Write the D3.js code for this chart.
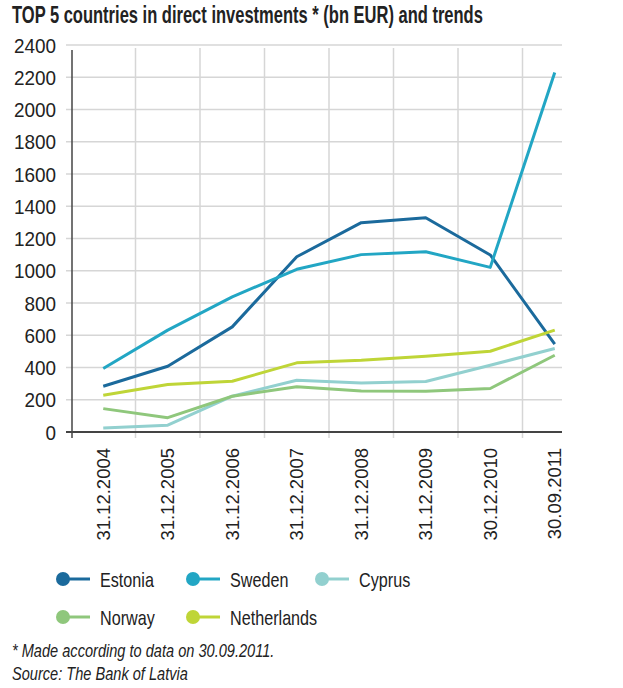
<!DOCTYPE html>
<html>
<head>
<meta charset="utf-8">
<script src="https://cdn.jsdelivr.net/npm/d3@7"></script>
<style>
  body { margin: 0; background: #fff; }
  svg { display: block; }
  .narrow { font-family: "Liberation Sans Narrow", "Arial Narrow", "Liberation Sans", sans-serif; }
</style>
</head>
<body>
<svg width="623" height="688"></svg>
<script>
const dates = ["31.12.2004", "31.12.2005", "31.12.2006", "31.12.2007", "31.12.2008", "31.12.2009", "30.12.2010", "30.09.2011"];
const countries = ["Estonia", "Sweden", "Cyprus", "Norway", "Netherlands"];
const estonia = [284, 408, 652, 1087, 1298, 1329, 1098, 545];
const sweden = [394, 632, 838, 1009, 1100, 1118, 1021, 2230];
const cyprus = [25, 42, 222, 321, 304, 313, 414, 518];
const norway = [145, 89, 222, 280, 255, 253, 270, 476];
const netherlands = [228, 294, 315, 429, 445, 470, 501, 632];
const yTicks = [0, 200, 400, 600, 800, 1000, 1200, 1400, 1600, 1800, 2000, 2200, 2400];
const colors = ["#1b6a9c", "#22a6c4", "#92d0cf", "#8fc77c", "#bfd537"];

const series = [estonia, sweden, cyprus, norway, netherlands];

const svg = d3.select("svg");

const x = d3.scaleBand().domain(dates).range([71, 587]);
const y = d3.scaleLinear().domain([0, 2400]).range([432, 45]);

// squeeze text to look like a condensed face
function narrow(sel, k) {
  sel.each(function () {
    const w = this.getComputedTextLength();
    d3.select(this)
      .attr("textLength", w * k)
      .attr("lengthAdjust", "spacingAndGlyphs");
  });
}

// title, squeezed with a transform so its box stays inside
const titleG = svg.append("g");
const title = titleG.append("text")
  .attr("class", "narrow")
  .style("font-size", "23px")
  .style("font-weight", "bold")
  .attr("fill", "#222")
  .text("TOP 5 countries in direct investments * (bn EUR) and trends");
const titleW = title.node().getComputedTextLength();
titleG.attr("transform", "translate(12,23) scale(" + (471 / titleW) + ",1)");

// horizontal grid
svg.append("g")
  .selectAll("line")
  .data(yTicks)
  .enter()
  .append("line")
  .attr("x1", 66)
  .attr("x2", 562)
  .attr("y1", d => y(d))
  .attr("y2", d => y(d))
  .attr("stroke", "#d6d6d6")
  .attr("stroke-width", 1.5);

// vertical grid
svg.append("g")
  .selectAll("line")
  .data(dates.slice(1))
  .enter()
  .append("line")
  .attr("x1", d => x(d))
  .attr("x2", d => x(d))
  .attr("y1", 48)
  .attr("y2", 438)
  .attr("stroke", "#d6d6d6")
  .attr("stroke-width", 1.5);

// y labels
svg.append("g")
  .selectAll("text")
  .data(yTicks)
  .enter()
  .append("text")
  .attr("class", "narrow")
  .attr("x", 56)
  .attr("y", d => y(d) + 7.5)
  .attr("text-anchor", "end")
  .style("font-size", "21px")
  .attr("fill", "#222")
  .text(d => d)
  .call(narrow, 0.9);

// axes lines
svg.append("line")
  .attr("x1", 72).attr("x2", 72)
  .attr("y1", 50).attr("y2", 438)
  .attr("stroke", "#444").attr("stroke-width", 1.5);
svg.append("line")
  .attr("x1", 66).attr("x2", 562)
  .attr("y1", y(0)).attr("y2", y(0))
  .attr("stroke", "#444").attr("stroke-width", 2);

// x labels
svg.append("g")
  .selectAll("text")
  .data(dates)
  .enter()
  .append("text")
  .attr("transform", d => "translate(" + (x(d) + x.bandwidth() / 2 + 6.5) + ",448) rotate(-90)")
  .attr("text-anchor", "end")
  .style("font-family", "'Liberation Sans', Arial, sans-serif")
  .style("font-size", "18.5px")
  .attr("fill", "#222")
  .text(d => d);

// lines
const line = d3.line()
  .x((d, i) => x(dates[i]) + x.bandwidth() / 2)
  .y(d => y(d));

svg.append("g")
  .selectAll("path")
  .data(series)
  .enter()
  .append("path")
  .attr("d", d => line(d))
  .attr("fill", "none")
  .attr("stroke", (d, i) => colors[i])
  .attr("stroke-width", 3)
  .attr("stroke-linejoin", "round");

// legend
const legendPos = [[63, 579], [193, 579], [322, 579], [63, 617], [193, 617]];

const legend = svg.append("g")
  .selectAll("g")
  .data(countries)
  .enter()
  .append("g")
  .attr("transform", (d, i) => "translate(" + legendPos[i][0] + "," + legendPos[i][1] + ")");

legend.append("line")
  .attr("x1", 0).attr("x2", 27)
  .attr("y1", 0).attr("y2", 0)
  .attr("stroke", (d, i) => colors[i])
  .attr("stroke-width", 3);

legend.append("circle")
  .attr("r", 7)
  .attr("fill", (d, i) => colors[i]);

legend.append("text")
  .attr("class", "narrow")
  .attr("x", 37)
  .attr("y", 7.5)
  .style("font-size", "21px")
  .attr("fill", "#222")
  .text(d => d)
  .call(narrow, 0.77);

// footnote
svg.append("text")
  .attr("class", "narrow")
  .attr("x", 12)
  .attr("y", 657)
  .style("font-size", "18px")
  .style("font-style", "italic")
  .attr("fill", "#222")
  .text("* Made according to data on 30.09.2011.")
  .call(narrow, 0.81);

svg.append("text")
  .attr("class", "narrow")
  .attr("x", 12)
  .attr("y", 680)
  .style("font-size", "18px")
  .style("font-style", "italic")
  .attr("fill", "#222")
  .text("Source: The Bank of Latvia")
  .call(narrow, 0.81);
</script>
</body>
</html>
